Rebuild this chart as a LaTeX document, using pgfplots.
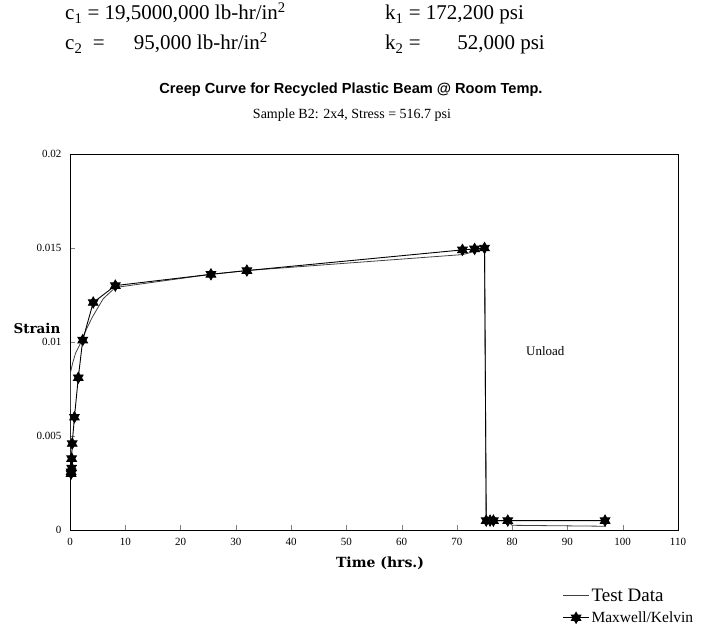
\documentclass[border=0pt]{standalone}
\usepackage{fontspec}
\setmainfont{Liberation Serif}
\newfontfamily\titlefont{Liberation Sans}
\newfontfamily\labelfont{DejaVu Serif}
\usepackage{pgfplots}
\pgfplotsset{compat=1.18}

% filled six-pointed star used for the model points
\pgfdeclareplotmark{hexstar}{%
  \pgfpathmoveto{\pgfqpointpolar{90}{\pgfplotmarksize}}%
  \pgfpathlineto{\pgfqpointpolar{210}{\pgfplotmarksize}}%
  \pgfpathlineto{\pgfqpointpolar{330}{\pgfplotmarksize}}%
  \pgfpathclose
  \pgfpathmoveto{\pgfqpointpolar{270}{\pgfplotmarksize}}%
  \pgfpathlineto{\pgfqpointpolar{30}{\pgfplotmarksize}}%
  \pgfpathlineto{\pgfqpointpolar{150}{\pgfplotmarksize}}%
  \pgfpathclose
  \pgfusepathqfillstroke}

\begin{document}
\begin{tikzpicture}
\useasboundingbox (0pt,0pt) rectangle (701pt,630pt);

% material constants
\begin{scope}[every node/.style={font=\fontsize{21}{24}\selectfont, inner sep=0pt}]
\node[anchor=base west] at (65pt,610pt) {c\textsubscript{1} = 19,5000,000 lb-hr/in\textsuperscript{2}};
\node[anchor=base west] at (65pt,580pt) {c\textsubscript{2}\ \ =};
\node[anchor=base east] at (268pt,580pt) {95,000 lb-hr/in\textsuperscript{2}};
\node[anchor=base west] at (385pt,610pt) {k\textsubscript{1} = 172,200 psi};
\node[anchor=base west] at (385pt,580pt) {k\textsubscript{2} =};
\node[anchor=base east] at (545pt,580pt) {52,000 psi};
\end{scope}

\node[font=\titlefont\bfseries\fontsize{14.6}{16}\selectfont] at (351pt,540pt)
  {Creep Curve for Recycled Plastic Beam @ Room Temp.};
\node[font=\fontsize{14}{16}\selectfont] at (352pt,515pt)
  {Sample B2: 2x4, Stress = 516.7 psi};

\node[font=\labelfont\bfseries\fontsize{13.5}{15}\selectfont] at (37pt,302pt) {Strain};
\node[font=\labelfont\bfseries\fontsize{14}{16}\selectfont] at (380pt,67pt) {Time (hrs.)};

\begin{axis}[
  at={(70pt,100pt)}, anchor=south west,
  scale only axis, width=608pt, height=376pt,
  xmin=0, xmax=110, ymin=0, ymax=0.02,
  xtick={0,10,...,110},
  ytick={0,0.005,0.01,0.015,0.02},
  scaled y ticks=false,
  yticklabel style={/pgf/number format/fixed, /pgf/number format/precision=3,
    xshift=-5pt},
  xticklabel style={yshift=-5pt},
  /pgf/number format/assume math mode=true,
  tick label style={font=\fontsize{11}{12}\selectfont},
  tick align=inside, xtick pos=bottom, ytick pos=left,
  major tick length=5pt,
  axis line style={line width=0.9pt},
  legend style={draw=none, fill=none, at={(0.805,-0.145)}, anchor=north west,
    font=\fontsize{15.5}{17}\selectfont, row sep=5pt},
  legend cell align=left,
  legend image code/.code={\draw[mark repeat=2, mark phase=2, #1]
    plot coordinates {(0pt,0pt) (13pt,0pt) (26pt,0pt)};},
]
% measured creep and recovery
\addplot[black!75, line width=0.8pt] coordinates {
  (0,0.0030) (0.1,0.0084) (0.5,0.0089) (1,0.0094) (2,0.0100) (3,0.0107)
  (4,0.0113) (6,0.0123) (8.2,0.0129) (25.5,0.0136) (32,0.0138)
  (71,0.01465) (73,0.0148) (75,0.0150) (75.3,0.0005) (79,0.0005)
  (80,0.00025) (97,0.0002)
};
\addlegendentry{\fontsize{19}{20}\selectfont Test Data}
% Maxwell/Kelvin model prediction
\addplot[black, line width=0.9pt, mark=hexstar, mark size=5.5pt] coordinates {
  (0.2,0.0030) (0.2,0.0031) (0.3,0.0033) (0.3,0.0038) (0.4,0.0046)
  (0.8,0.0060) (1.5,0.0081) (2.3,0.0101) (4.2,0.0121) (8.2,0.0130)
  (25.5,0.0136) (32,0.0138) (71,0.0149) (73.2,0.01495) (75,0.0150)
  (75.3,0.0005) (76,0.0005) (76.6,0.0005) (79.2,0.0005) (96.8,0.0005)
};
\addlegendentry{Maxwell/Kelvin}

\node[font=\fontsize{13}{14}\selectfont] at (axis cs:86,0.0095) {Unload};
\end{axis}
\end{tikzpicture}
\end{document}
